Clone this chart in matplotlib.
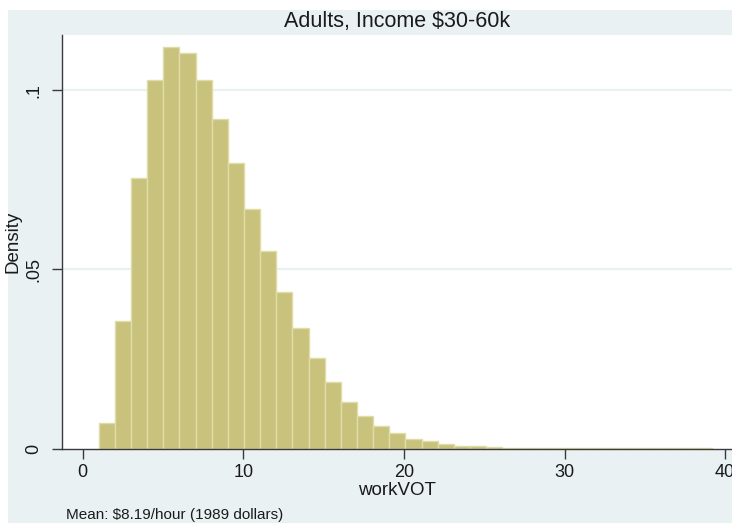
import numpy as np
import matplotlib
matplotlib.use("Agg")
import matplotlib.pyplot as plt
from matplotlib.patches import Rectangle

plt.rcParams["font.family"] = ["Liberation Sans", "DejaVu Sans"]

# Histogram of work value of time (density scale)
bin_start = 1.0
bin_width = 1.005
density = [
    0.0073, 0.0357, 0.0754, 0.1028, 0.1119, 0.1104, 0.1028, 0.0920,
    0.0796, 0.0668, 0.0551, 0.0438, 0.0336, 0.0252, 0.0186, 0.0130,
    0.0091, 0.0063, 0.0043, 0.0026, 0.0021, 0.0014, 0.0008, 0.0007,
    0.0004, 0.0003, 0.0002, 0.0001, 0.0001, 0.0001, 0.0001, 0.0001,
    0.0001, 0.0001, 0.0001, 0.0001, 0.0001, 0.0001,
]
x_ticks = [0, 10, 20, 30, 40]
y_ticks = [0, 0.05, 0.10]
y_tick_labels = ["0", ".05", ".1"]

title = "Adults, Income $30-60k"
x_label = "workVOT"
y_label = "Density"
note = "Mean: $8.19/hour (1989 dollars)"

W, H = 732, 523
fig = plt.figure(figsize=(W / 100, H / 100), dpi=100)
fig.patch.set_facecolor("white")

bg = "#EAF1F3"
fig.patches.append(Rectangle((8 / W, 0), (W - 8) / W, (H - 10) / H,
                             transform=fig.transFigure, facecolor=bg,
                             edgecolor="none", zorder=-10))

ax = fig.add_axes([62 / W, (H - 448.7) / H, (W - 62) / W, (448.7 - 35) / H])
ax.set_facecolor("white")

lefts = bin_start + bin_width * np.arange(len(density))
ax.bar(lefts, density, width=bin_width, align="edge",
       facecolor="#C9C27D", edgecolor="#E0DCA8", linewidth=1.0, zorder=2)

ax.set_xlim(-1.29, 40.43)
ax.set_ylim(0, 0.11537)

for yv in y_ticks[1:]:
    ax.axhline(yv, color=bg, linewidth=1.6, zorder=1)

for side in ("top", "right"):
    ax.spines[side].set_visible(False)
for side in ("left", "bottom"):
    ax.spines[side].set_color("#3a3a3a")
    ax.spines[side].set_linewidth(1.0)
    ax.spines[side].set_zorder(3)

ax.set_xticks(x_ticks)
ax.set_yticks(y_ticks)
ax.set_yticklabels(y_tick_labels, rotation=90, va="center")
ax.tick_params(axis="both", direction="out", length=7, width=1.0,
               color="#3a3a3a", labelsize=13, labelcolor="#1a1a1a")
ax.tick_params(axis="x", pad=4)
ax.tick_params(axis="y", pad=7)

ax.set_xlabel(x_label, fontsize=13.5, color="#1a1a1a", labelpad=1)
ax.set_ylabel(y_label, fontsize=13.5, color="#1a1a1a", labelpad=3)

fig.text(397.5 / W, (H - 26.7) / H, title, ha="center", va="baseline",
         fontsize=15.5, color="#1a1a1a")
fig.text(66 / W, (H - 519.5) / H, note, ha="left", va="baseline",
         fontsize=11, color="#1a1a1a")

fig.savefig("out.png", dpi=100, facecolor=fig.get_facecolor())
